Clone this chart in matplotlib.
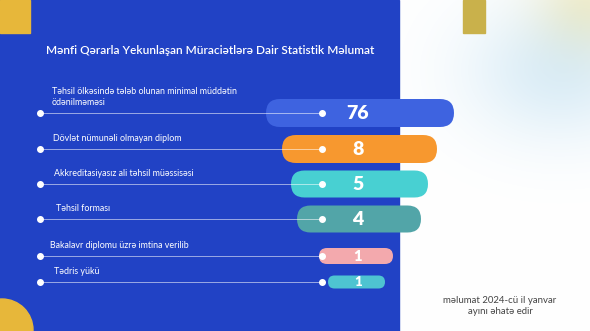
import numpy as np
import matplotlib
matplotlib.use('Agg')
import matplotlib.pyplot as plt
from matplotlib.patches import FancyBboxPatch, Rectangle, Circle

plt.rcParams['font.family'] = ['Lato', 'DejaVu Sans']

# data
labels = ['Təhsil ölkəsində tələb olunan minimal müddətin\nödənilməməsi',
          'Dövlət nümunəli olmayan diplom',
          'Akkreditasiyasız ali təhsil müəssisəsi',
          'Təhsil forması',
          'Bakalavr diplomu üzrə imtina verilib',
          'Tədris yükü']
values = [76, 8, 5, 4, 1, 1]
title = 'Mənfi Qərarla Yekunlaşan Müraciətlərə Dair Statistik Məlumat'
note = 'məlumat 2024-cü il yanvar\nayını əhatə edir'

# layout (pixels), pills are decorative and not to scale
row_y = [113, 149, 184, 219, 256, 282]
pill_x0 = [266, 282, 291, 297, 319, 328]
pill_x1 = [454, 437, 428, 421, 393, 385]
pill_h = [28, 28, 27, 27, 16, 13]
label_x = [52, 53, 54, 56, 50, 54]
num_size = [14, 14, 14, 14, 10.5, 9.5]
colors = ['#3e63e0', '#f7982f', '#48d0d2', '#52a5a8', '#f3a9ad', '#4ec4d1']

W, H = 590, 331
fig = plt.figure(figsize=(W / 100, H / 100), dpi=100)
ax = fig.add_axes([0, 0, 1, 1])
ax.set_xlim(0, W)
ax.set_ylim(H, 0)
ax.axis('off')

# right side soft gradient
gx, gy = np.meshgrid(np.linspace(398, W, 200), np.linspace(0, H, 300))
blue = np.exp(-((gx - 560) ** 2 / 9000 + (gy - 70) ** 2 / 5000))
yel = np.exp(-((gx - 590) ** 2 / 3000 + (gy - 0) ** 2 / 2500))
img = np.ones(gx.shape + (3,))
img -= blue[..., None] * (1 - np.array([0.86, 0.93, 0.97]))
img -= yel[..., None] * (1 - np.array([0.98, 0.95, 0.82]))
ax.imshow(np.clip(img, 0, 1), extent=[398, W, H, 0], aspect='auto', zorder=0)

# blue panel and decorations
ax.add_patch(Rectangle((0, 0), 399, H, color='#2142c5', zorder=1))
ax.add_patch(Rectangle((0, 0), 30, 33, color='#e7b73a', zorder=2))
ax.add_patch(Rectangle((463, 0), 22, 33, color='#c9b14b', zorder=2))
ax.add_patch(Circle((2, 330), 31, color='#e7b73a', zorder=2))

ax.text(210, 51, title, color='white', fontsize=8.6, fontweight='semibold',
        ha='center', va='center', zorder=5)

for i in range(len(values)):
    y = row_y[i]
    h = pill_h[i]
    ax.add_patch(FancyBboxPatch((pill_x0[i], y - h / 2), pill_x1[i] - pill_x0[i], h,
                                boxstyle='round,pad=0,rounding_size=%g' % (h / 2),
                                fc=colors[i], ec='none', zorder=3))
    ax.plot([40, 322], [y, y], color='white', lw=0.7, alpha=0.55, zorder=4)
    ax.plot([40, 322], [y, y], 'o', color='white', ms=4, zorder=4)
    ax.text(label_x[i], y - 6, labels[i], color='white', fontsize=6.4,
            ha='left', va='bottom', linespacing=1.3, zorder=5)
    ax.text(358, y + 0.5, str(values[i]), color='white', fontsize=num_size[i],
            fontweight='heavy', ha='center', va='center', zorder=5)

ax.text(500, 306, note, color='#444444', fontsize=6.9, ha='center', va='center',
        linespacing=1.35, zorder=5)

fig.savefig('out.png', dpi=100)
